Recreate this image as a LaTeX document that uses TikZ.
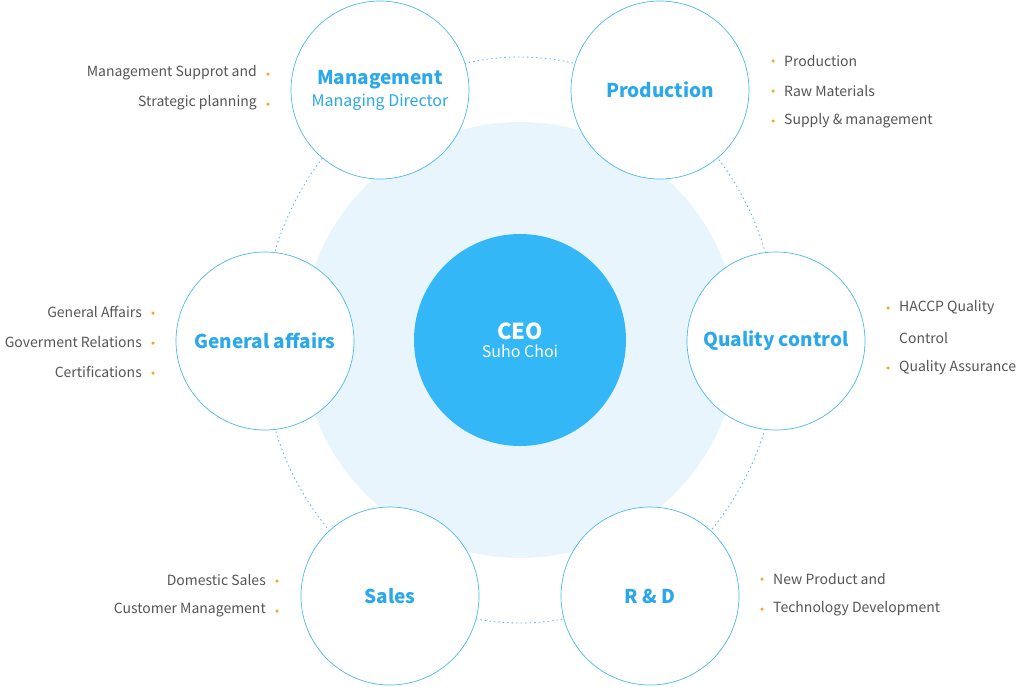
\documentclass[tikz,border=0pt]{standalone}
\usepackage{fontspec}
\setmainfont{Noto Sans CJK KR}
\definecolor{ring}{HTML}{4DB8F0}
\definecolor{ttl}{HTML}{2AA8EA}
\definecolor{ceo}{HTML}{33B7F7}
\definecolor{bgc}{HTML}{E8F5FC}
\definecolor{gtx}{HTML}{555555}
\definecolor{dot}{HTML}{F5A623}
\begin{document}
\begin{tikzpicture}[x=1pt,y=-1pt,
  dept/.style={circle,draw=ring,fill=white,line width=0.7pt,minimum size=178pt,inner sep=0pt,align=center,text=ttl,font=\fontsize{19}{22}\selectfont\bfseries},
  li/.style={text=gtx,font=\fontsize{14}{16}\selectfont,inner sep=0pt},
  bl/.style={li,anchor=east},
  br/.style={li,anchor=west},
  bd/.style={circle,fill=dot,inner sep=0pt,minimum size=3.5pt}]
\useasboundingbox (0,0) rectangle (1020,686);
\fill[bgc] (520,340) circle (218);
\draw[ring,dash pattern=on 1.5pt off 3pt,line width=0.8pt] (520,340) ellipse (258 and 283);
\node[circle,fill=ceo,minimum size=212pt,inner sep=0pt,align=center,text=white] (ceo) at (520,340)
  {{\fontsize{22}{26}\selectfont\bfseries CEO}\\[4pt]{\fontsize{16}{19}\selectfont Suho Choi}};
\node[dept] (mg) at (380,90) {Management\\[0pt]{\fontsize{16}{19}\selectfont\mdseries Managing Director}};
\node[dept] (pr) at (660,90) {Production};
\node[dept] (qc) at (776,341) {Quality control};
\node[dept] (ga) at (265,341) {General affairs};
\node[dept] (sa) at (390,596) {Sales};
\node[dept] (rd) at (650,596) {R \& D};
% management
\node[bl] (m1) at (257,73) {Management Supprot and}; \node[bd] at (268,74) {};
\node[bl] (m2) at (257,103) {Strategic planning}; \node[bd] at (268,104) {};
% production
\node[bd] at (773,61) {}; \node[br] (p1) at (784,61) {Production};
\node[bd] at (773,91) {}; \node[br] (p2) at (784,91) {Raw Materials};
\node[bd] at (773,121) {}; \node[br] (p3) at (784,121) {Supply \& management};
% quality
\node[bd] at (888,308) {}; \node[br] (q1) at (899,308) {HACCP Quality};
\node[br] (q2) at (899,338) {Control};
\node[bd] at (888,368) {}; \node[br] (q3) at (899,368) {Quality Assurance};
% general
\node[bl] (g1) at (142,312) {General Affairs}; \node[bd] at (153,313) {};
\node[bl] (g2) at (142,342) {Goverment Relations}; \node[bd] at (153,343) {};
\node[bl] (g3) at (142,372) {Certifications}; \node[bd] at (153,373) {};
% sales
\node[bl] (s1) at (266,580) {Domestic Sales}; \node[bd] at (277,581) {};
\node[bl] (s2) at (266,610) {Customer Management}; \node[bd] at (277,611) {};
% R&D
\node[bd] at (762,579) {}; \node[br] (r1) at (773,579) {New Product and};
\node[bd] at (762,609) {}; \node[br] (r2) at (773,609) {Technology Development};
\end{tikzpicture}
\end{document}
